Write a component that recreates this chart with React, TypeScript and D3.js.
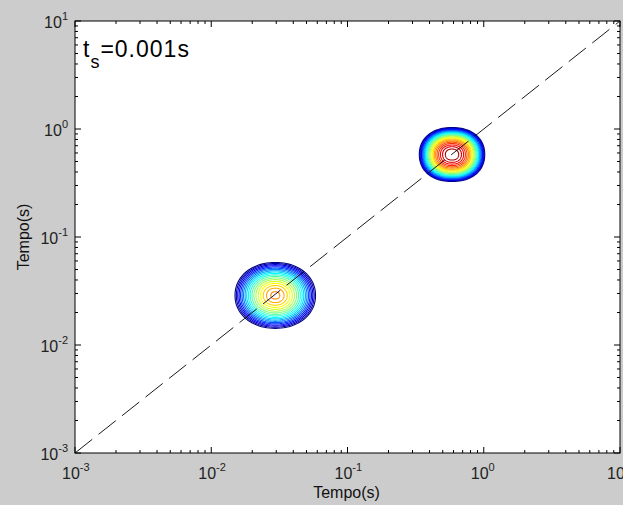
import React from "react";
import * as d3 from "d3";

// ---- data ----
const xDomain = [1e-3, 10];
const yDomain = [1e-3, 10];
const decadeTicks = [1e-3, 1e-2, 1e-1, 1e0, 1e1];
const tickExponents = ["-3", "-2", "-1", "0", "1"];
// contour clusters (center in seconds, radius in decades, peak density, shape/profile exponents)
const clusterCenterX = [0.0295, 0.585];
const clusterCenterY = [0.0288, 0.580];
const clusterRadiusX = [0.305, 0.245];
const clusterRadiusY = [0.315, 0.255];
const clusterPeak = [0.78, 1.0];
const clusterShape = [2.1, 2.2];
const clusterProfile = [1.65, 2.0];
const contourLevels = [
  0.04, 0.08, 0.12, 0.16, 0.2, 0.24, 0.28, 0.32, 0.36, 0.4,
  0.44, 0.48, 0.52, 0.56, 0.6, 0.64, 0.68, 0.72, 0.76, 0.8,
  0.84, 0.88, 0.92, 0.96, 1.0,
];
const diagonal = [1e-3, 10];
const titleMain = "t";
const titleSub = "s";
const titleRest = "=0.001s";
const axisLabel = "Tempo(s)";

const W = 623, H = 505;
const L = 75, R = 620, T = 21, B = 453;
const FONT = "Liberation Sans, Arial, Helvetica, sans-serif";

function jet(t: number) {
  const c = (v: number) => Math.max(0, Math.min(1, v));
  const r = c(1.5 - Math.abs(4 * t - 3));
  const g = c(1.5 - Math.abs(4 * t - 2));
  const b = c(1.5 - Math.abs(4 * t - 1));
  return d3.rgb(r * 255, g * 255, b * 255).toString();
}

export default function App() {
  const x = d3.scaleLog().domain(xDomain).range([L, R]);
  const y = d3.scaleLog().domain(yDomain).range([B, T]);
  const lmin = d3.min(contourLevels)!;
  const lmax = d3.max(contourLevels)!;

  const minorTicks: number[] = [];
  for (let i = 0; i < decadeTicks.length - 1; i++) {
    for (let k = 2; k <= 9; k++) minorTicks.push(decadeTicks[i] * k);
  }

  const line = d3.line<[number, number]>().x(d => d[0]).y(d => d[1]).curve(d3.curveLinearClosed);

  const contours: { d: string; color: string }[] = [];
  clusterPeak.forEach((P, ci) => {
    const lcx = Math.log10(clusterCenterX[ci]);
    const lcy = Math.log10(clusterCenterY[ci]);
    const n = clusterShape[ci];
    contourLevels.forEach(lv => {
      if (lv >= P) return;
      const f = Math.pow(1 - lv / P, 1 / clusterProfile[ci]);
      const pts: [number, number][] = d3.range(0, 96).map(i => {
        const a = (i / 96) * Math.PI * 2;
        const ca = Math.cos(a), sa = Math.sin(a);
        const cx = Math.sign(ca) * Math.pow(Math.abs(ca), 2 / n);
        const sy = Math.sign(sa) * Math.pow(Math.abs(sa), 2 / n);
        const lx = lcx + clusterRadiusX[ci] * f * cx;
        const ly = lcy + clusterRadiusY[ci] * f * sy;
        return [x(Math.pow(10, lx)), y(Math.pow(10, ly))];
      });
      contours.push({ d: line(pts)!, color: jet((lv - lmin) / (lmax - lmin)) });
    });
  });

  const majLen = 6, minLen = 3;

  return (
    <svg width={W} height={H} style={{ position: "absolute", left: 0, top: 0, display: "block" }} fontFamily={FONT}>
      <rect x={0} y={0} width={W} height={H} fill="#cccccc" />
      <rect x={L} y={T} width={R - L} height={B - T} fill="#ffffff" />
      {contours.map((c, i) => (
        <path key={i} d={c.d} fill="none" stroke={c.color} strokeWidth={1.1} />
      ))}
      <line x1={x(diagonal[0])} y1={y(diagonal[0])} x2={x(diagonal[1])} y2={y(diagonal[1])}
        stroke="#000" strokeWidth={0.9} strokeDasharray="22,8" />
      {/* ticks */}
      <g stroke="#000" strokeWidth={1}>
        {decadeTicks.map((v, i) => (
          <g key={"M" + i}>
            <line x1={x(v)} x2={x(v)} y1={B} y2={B - majLen} />
            <line x1={x(v)} x2={x(v)} y1={T} y2={T + majLen} />
            <line y1={y(v)} y2={y(v)} x1={L} x2={L + majLen} />
            <line y1={y(v)} y2={y(v)} x1={R} x2={R - majLen} />
          </g>
        ))}
        {minorTicks.map((v, i) => (
          <g key={"m" + i}>
            <line x1={x(v)} x2={x(v)} y1={B} y2={B - minLen} />
            <line x1={x(v)} x2={x(v)} y1={T} y2={T + minLen} />
            <line y1={y(v)} y2={y(v)} x1={L} x2={L + minLen} />
            <line y1={y(v)} y2={y(v)} x1={R} x2={R - minLen} />
          </g>
        ))}
      </g>
      <rect x={L} y={T} width={R - L} height={B - T} fill="none" stroke="#000" strokeWidth={1} />
      {/* x tick labels */}
      {decadeTicks.map((v, i) => (
        <text key={"xl" + i} x={x(v) - 13} y={479} fontSize={16} fill="#222">
          10<tspan dy={-8} fontSize={11}>{tickExponents[i]}</tspan>
        </text>
      ))}
      {/* y tick labels */}
      {decadeTicks.map((v, i) => (
        <text key={"yl" + i} x={68} y={y(v) + 7} fontSize={16} fill="#222" textAnchor="end">
          10<tspan dy={-8} fontSize={11}>{tickExponents[i]}</tspan>
        </text>
      ))}
      <text x={(L + R) / 2 - 1} y={498} fontSize={16} textAnchor="middle" fill="#111">{axisLabel}</text>
      <text transform={`translate(29,${(T + B) / 2}) rotate(-90)`} fontSize={16} textAnchor="middle" fill="#111">{axisLabel}</text>
      <text x={83} y={57} fontSize={23} fill="#000" letterSpacing={1}>
        {titleMain}<tspan dy={11} fontSize={18}>{titleSub}</tspan><tspan dy={-11}>{titleRest}</tspan>
      </text>
    </svg>
  );
}
